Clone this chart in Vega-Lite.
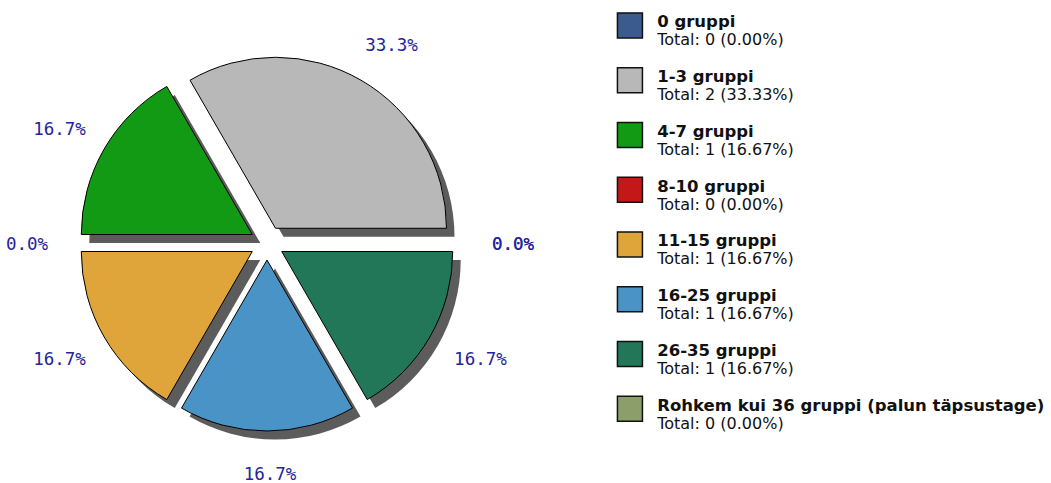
{
  "$schema": "https://vega.github.io/schema/vega-lite/v6.json",
  "padding": 0,
  "spacing": 0,
  "background": "white",
  "config": {"view": {"stroke": null}},
  "data": {"values": [
    {"i": 0, "cat": "0 gruppi", "v": 0, "pct": "0.0%", "total": "Total: 0 (0.00%)"},
    {"i": 1, "cat": "1-3 gruppi", "v": 2, "pct": "33.3%", "total": "Total: 2 (33.33%)"},
    {"i": 2, "cat": "4-7 gruppi", "v": 1, "pct": "16.7%", "total": "Total: 1 (16.67%)"},
    {"i": 3, "cat": "8-10 gruppi", "v": 0, "pct": "0.0%", "total": "Total: 0 (0.00%)"},
    {"i": 4, "cat": "11-15 gruppi", "v": 1, "pct": "16.7%", "total": "Total: 1 (16.67%)"},
    {"i": 5, "cat": "16-25 gruppi", "v": 1, "pct": "16.7%", "total": "Total: 1 (16.67%)"},
    {"i": 6, "cat": "26-35 gruppi", "v": 1, "pct": "16.7%", "total": "Total: 1 (16.67%)"},
    {"i": 7, "cat": "Rohkem kui 36 gruppi (palun täpsustage)", "v": 0, "pct": "0.0%", "total": "Total: 0 (0.00%)"}
  ]},
  "hconcat": [
    {
      "width": 534,
      "height": 483,
      "encoding": {
        "theta": {"field": "v", "type": "quantitative", "stack": true, "scale": {"range": [1.5708, -4.7124]}},
        "order": {"field": "i", "type": "quantitative"}
      },
      "layer": [
        {
          "transform": [{"filter": "datum.v > 0"}],
          "mark": {"type": "arc", "radius": 171, "color": "#5c5c5c",
            "xOffset": {"expr": "8 + 17*cos(PI*(datum.v_start + datum.v_end)/6)"},
            "yOffset": {"expr": "10 - 17*sin(PI*(datum.v_start + datum.v_end)/6)"}}
        },
        {
          "transform": [{"filter": "datum.v > 0"}],
          "mark": {"type": "arc", "radius": 171, "stroke": "black", "strokeWidth": 1,
            "xOffset": {"expr": "17*cos(PI*(datum.v_start + datum.v_end)/6)"},
            "yOffset": {"expr": "1.5 - 17*sin(PI*(datum.v_start + datum.v_end)/6)"}},
          "encoding": {
            "color": {"field": "cat", "type": "nominal", "legend": null,
              "scale": {
                "domain": ["0 gruppi", "1-3 gruppi", "4-7 gruppi", "8-10 gruppi", "11-15 gruppi", "16-25 gruppi", "26-35 gruppi", "Rohkem kui 36 gruppi (palun täpsustage)"],
                "range": ["#3b5b8e", "#b8b8b8", "#129a14", "#c41818", "#e0a53a", "#4a93c6", "#217757", "#8c9e6a"]
              }}
          }
        },
        {
          "mark": {"type": "text", "radius": 0, "font": "DejaVu Sans Mono", "fontSize": 17.5, "color": "#24249c",
            "xOffset": {"expr": "3 + 243*cos(PI*(datum.v_start + datum.v_end)/6)"},
            "yOffset": {"expr": "3.5 - 230*sin(PI*(datum.v_start + datum.v_end)/6)"}},
          "encoding": {"text": {"field": "pct"}}
        }
      ]
    },
    {
      "width": 517,
      "height": 438,
      "encoding": {
        "y": {"field": "cat", "type": "nominal", "sort": {"field": "i", "op": "min"}, "scale": {"paddingInner": 0, "paddingOuter": 0}, "axis": null}
      },
      "layer": [
        {
          "mark": {"type": "square", "size": 625, "filled": true, "opacity": 1, "stroke": "#111111", "strokeWidth": 1.5, "yOffset": -2},
          "encoding": {
            "x": {"datum": 101, "type": "quantitative", "scale": {"domain": [0, 517]}, "axis": null},
            "color": {"field": "cat", "type": "nominal", "legend": null}
          }
        },
        {
          "mark": {"type": "text", "align": "left", "baseline": "alphabetic", "yOffset": 0, "font": "DejaVu Sans", "fontWeight": "bold", "fontSize": 16.5, "color": "#111111"},
          "encoding": {
            "x": {"datum": 130, "type": "quantitative"},
            "text": {"field": "cat"}
          }
        },
        {
          "mark": {"type": "text", "align": "left", "baseline": "alphabetic", "yOffset": 18, "font": "DejaVu Sans", "fontSize": 16, "color": "#111111"},
          "encoding": {
            "x": {"datum": 130, "type": "quantitative"},
            "text": {"field": "total"}
          }
        }
      ]
    }
  ]
}
